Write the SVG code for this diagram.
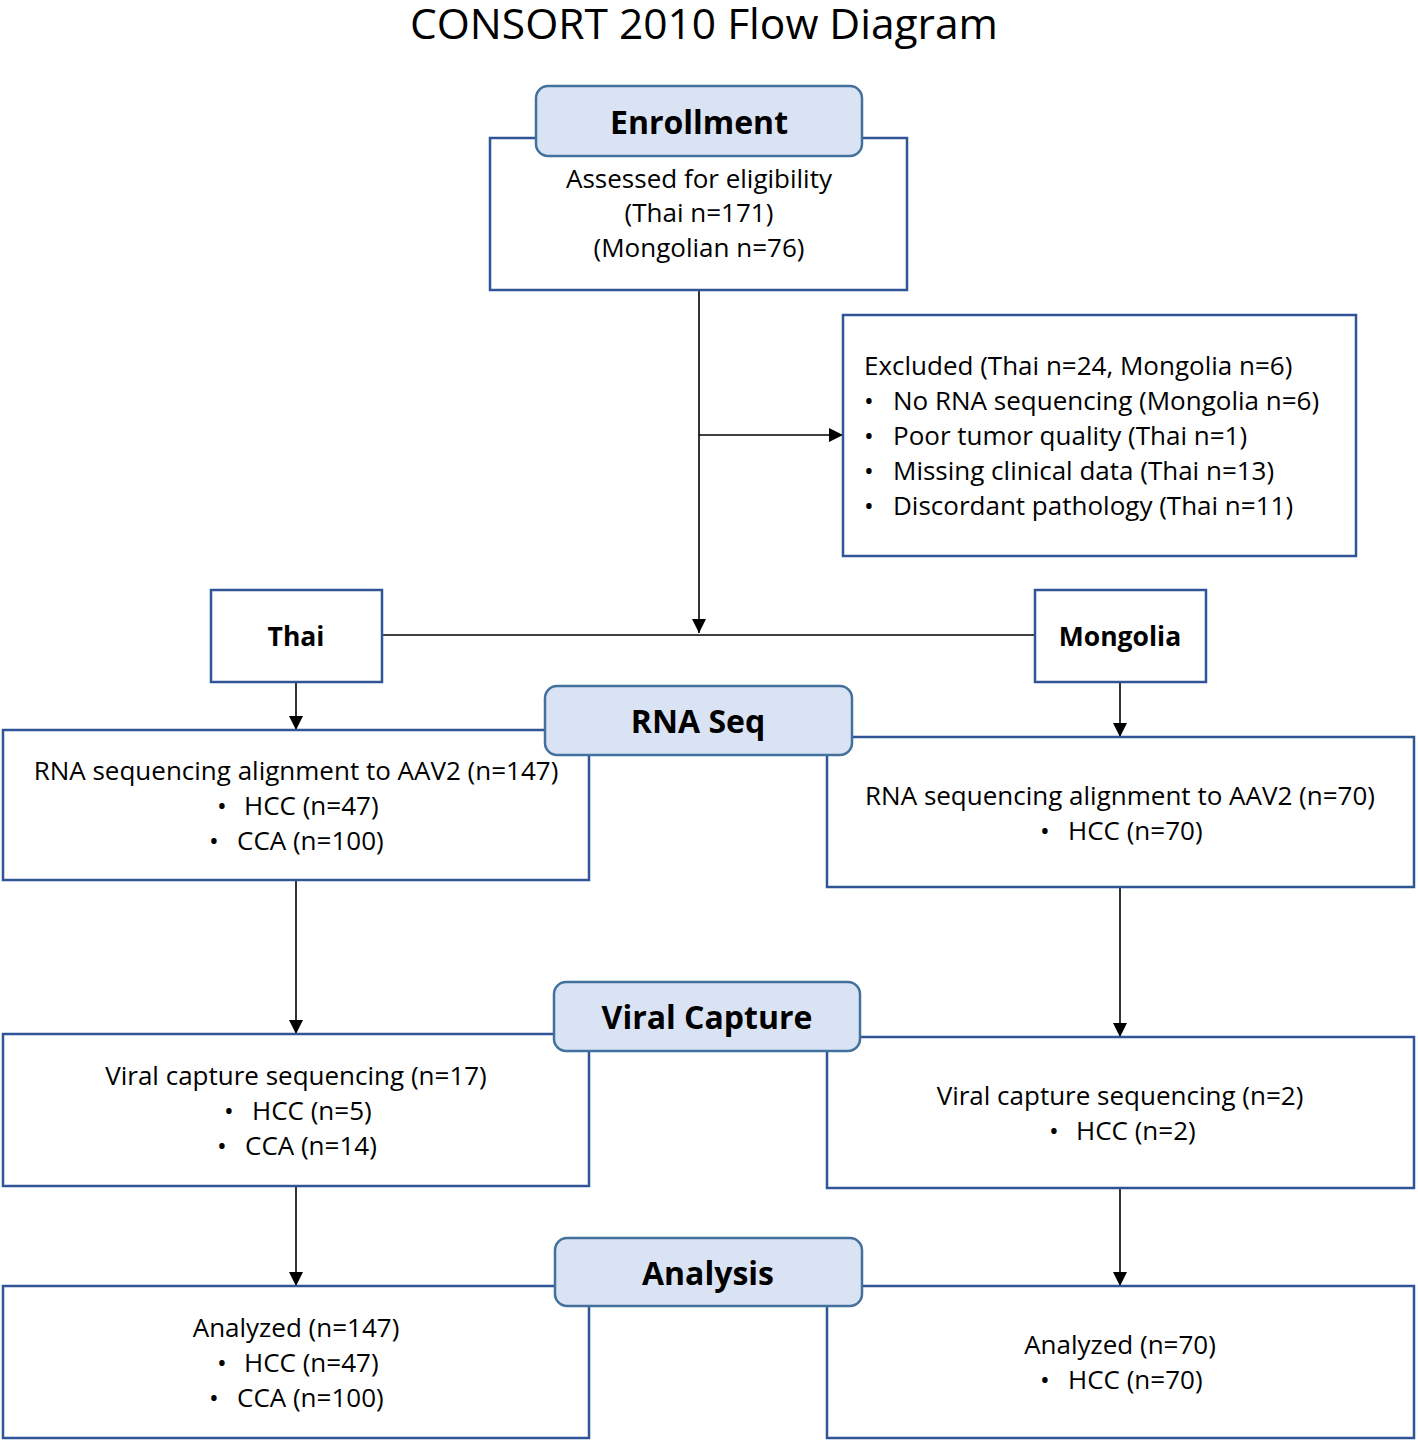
<svg xmlns="http://www.w3.org/2000/svg" width="1418" height="1442" viewBox="0 0 1418 1442">
<style>
.box{fill:#fff;stroke:#2f5597;stroke-width:2.5}
.hdr{fill:#dae3f3;stroke:#41719c;stroke-width:2.5}
.t{font-family:"Open Sans","Liberation Sans",sans-serif;font-size:26px;fill:#000}
.c{text-anchor:middle}
.hb{font-family:"Open Sans","Liberation Sans",sans-serif;font-size:32px;font-weight:bold;fill:#000;text-anchor:middle}
.sb{font-family:"Open Sans","Liberation Sans",sans-serif;font-size:26.5px;font-weight:bold;fill:#000;text-anchor:middle}
.ln{stroke:#000;stroke-width:1.6;fill:none}
</style>
<defs>
<marker id="ar" markerWidth="14" markerHeight="14" refX="14" refY="7" orient="auto" markerUnits="userSpaceOnUse">
<path d="M0,0 L14,7 L0,14 Z" fill="#000"/>
</marker>
</defs>
<rect width="1418" height="1442" fill="#fff"/>
<text x="704" y="39" class="t c" style="font-size:42.5px">CONSORT 2010 Flow Diagram</text>

<g id="connectors">
<line class="ln" x1="699" y1="290" x2="699" y2="633" marker-end="url(#ar)"/>
<line class="ln" x1="699" y1="435" x2="843" y2="435" marker-end="url(#ar)"/>
<line class="ln" x1="382" y1="635" x2="1035" y2="635"/>
<line class="ln" x1="296" y1="682" x2="296" y2="730" marker-end="url(#ar)"/>
<line class="ln" x1="1120" y1="682" x2="1120" y2="737" marker-end="url(#ar)"/>
<line class="ln" x1="296" y1="880" x2="296" y2="1034" marker-end="url(#ar)"/>
<line class="ln" x1="1120" y1="887" x2="1120" y2="1037" marker-end="url(#ar)"/>
<line class="ln" x1="296" y1="1186" x2="296" y2="1286" marker-end="url(#ar)"/>
<line class="ln" x1="1120" y1="1188" x2="1120" y2="1286" marker-end="url(#ar)"/>
</g>

<g id="enrollment">
<rect class="box" x="490" y="138" width="417" height="152"/>
<rect class="hdr" x="536" y="86" width="326" height="70" rx="12"/>
<text x="699" y="134" class="hb">Enrollment</text>
<text x="699" y="188" class="t c">Assessed for eligibility</text>
<text x="699" y="222" class="t c">(Thai n=171)</text>
<text x="699" y="257" class="t c">(Mongolian n=76)</text>
</g>

<g id="excluded">
<rect class="box" x="843" y="315" width="513" height="241"/>
<text x="864" y="375" class="t">Excluded (Thai n=24, Mongolia n=6)</text>
<text x="864" y="410" class="t">•</text><text x="893" y="410" class="t">No RNA sequencing (Mongolia n=6)</text>
<text x="864" y="445" class="t">•</text><text x="893" y="445" class="t">Poor tumor quality (Thai n=1)</text>
<text x="864" y="480" class="t">•</text><text x="893" y="480" class="t">Missing clinical data (Thai n=13)</text>
<text x="864" y="515" class="t">•</text><text x="893" y="515" class="t">Discordant pathology (Thai n=11)</text>
</g>

<g id="thai">
<rect class="box" x="211" y="590" width="171" height="92"/>
<text x="296" y="646" class="sb">Thai</text>
</g>
<g id="mongolia">
<rect class="box" x="1035" y="590" width="171" height="92"/>
<text x="1120" y="646" class="sb">Mongolia</text>
</g>

<g id="rna-thai">
<rect class="box" x="3" y="730" width="586" height="150"/>
<text x="296" y="780" class="t c">RNA sequencing alignment to AAV2 (n=147)</text>
<text x="217" y="815" class="t">•</text><text x="244" y="815" class="t">HCC (n=47)</text>
<text x="209" y="850" class="t">•</text><text x="237" y="850" class="t">CCA (n=100)</text>
</g>
<g id="rna-mongolia">
<rect class="box" x="827" y="737" width="587" height="150"/>
<text x="1120" y="805" class="t c">RNA sequencing alignment to AAV2 (n=70)</text>
<text x="1040" y="840" class="t">•</text><text x="1068" y="840" class="t">HCC (n=70)</text>
</g>
<g id="rna-header">
<rect class="hdr" x="545" y="686" width="307" height="69" rx="12"/>
<text x="698" y="733" class="hb">RNA Seq</text>
</g>

<g id="vc-thai">
<rect class="box" x="3" y="1034" width="586" height="152"/>
<text x="296" y="1085" class="t c">Viral capture sequencing (n=17)</text>
<text x="224" y="1120" class="t">•</text><text x="252" y="1120" class="t">HCC (n=5)</text>
<text x="217" y="1155" class="t">•</text><text x="245" y="1155" class="t">CCA (n=14)</text>
</g>
<g id="vc-mongolia">
<rect class="box" x="827" y="1037" width="587" height="151"/>
<text x="1120" y="1105" class="t c">Viral capture sequencing (n=2)</text>
<text x="1049" y="1140" class="t">•</text><text x="1076" y="1140" class="t">HCC (n=2)</text>
</g>
<g id="vc-header">
<rect class="hdr" x="554" y="982" width="306" height="69" rx="12"/>
<text x="707" y="1029" class="hb">Viral Capture</text>
</g>

<g id="an-thai">
<rect class="box" x="3" y="1286" width="586" height="152"/>
<text x="296" y="1337" class="t c">Analyzed (n=147)</text>
<text x="217" y="1372" class="t">•</text><text x="244" y="1372" class="t">HCC (n=47)</text>
<text x="209" y="1407" class="t">•</text><text x="237" y="1407" class="t">CCA (n=100)</text>
</g>
<g id="an-mongolia">
<rect class="box" x="827" y="1286" width="587" height="152"/>
<text x="1120" y="1354" class="t c">Analyzed (n=70)</text>
<text x="1040" y="1389" class="t">•</text><text x="1068" y="1389" class="t">HCC (n=70)</text>
</g>
<g id="an-header">
<rect class="hdr" x="555" y="1238" width="307" height="68" rx="12"/>
<text x="708" y="1285" class="hb">Analysis</text>
</g>
</svg>
